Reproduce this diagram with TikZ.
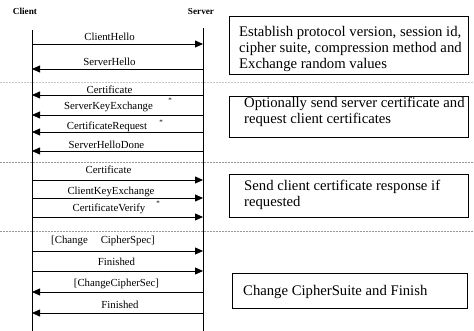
\documentclass[tikz,border=0pt]{standalone}
\usepackage{fontspec}
\setmainfont{Liberation Serif}
\usetikzlibrary{arrows.meta}
\newcommand{\boxlines}[1]{\begin{tabular}[t]{@{}l@{}}#1\end{tabular}}
\begin{document}
\begin{tikzpicture}[x=1pt,y=-1pt,
  lifeline/.style={line width=0.9pt},
  msg/.style={line width=0.8pt,-{Triangle[length=8pt,width=7pt]}},
  lbl/.style={anchor=base,inner sep=0pt,font=\fontsize{10.8}{12}\selectfont},
  ttl/.style={anchor=base,inner sep=0pt,font=\fontsize{9.2}{11}\selectfont\bfseries},
  star/.style={inner sep=0pt,font=\fontsize{7}{8}\selectfont},
  frame/.style={draw,line width=1pt,anchor=north west,inner sep=0pt},
  boxtxt/.style={anchor=base west,inner sep=0pt,font=\fontsize{14.7}{16}\selectfont},
  sep/.style={line width=0.6pt,dash pattern=on 2pt off 1pt}]
\useasboundingbox (0,0) rectangle (474,331);
% titles
\node[ttl] (client) at (25,15) {Client};
\node[ttl] (server) at (201,15) {Server};
% lifelines
\coordinate (ctop) at (32,30);
\coordinate (cbot) at (32,331);
\coordinate (stop) at (203,28);
\coordinate (sbot) at (203,331);
\draw[lifeline] (ctop) -- (cbot);
\draw[lifeline] (stop) -- (sbot);
% separators
\coordinate (d1l) at (0,82);  \coordinate (d1r) at (474,82);
\coordinate (d2l) at (0,162); \coordinate (d2r) at (474,162);
\coordinate (d3l) at (0,231); \coordinate (d3r) at (474,231);
\draw[sep,gray!45] (d1l) -- (d1r);
\draw[sep,gray!80] (d2l) -- (d2r);
\draw[sep,gray!80] (d3l) -- (d3r);
% message points
\foreach \i/\y in {1/44,2/69,3/95,4/115,5/132,6/151,7/180,8/198,9/217,10/251,11/271,12/292,13/313}{
  \coordinate (c\i) at (32,\y);
  \coordinate (s\i) at (203,\y);
}
% messages
\draw[msg] (c1) -- (s1);
\node[lbl] (m1) at (109.5,41) {ClientHello};
\draw[msg] (s2) -- (c2);
\node[lbl] (m2) at (109.5,65.5) {ServerHello};
\draw[msg] (s3) -- (c3);
\node[lbl] (m3) at (109.5,93.3) {Certificate};
\draw[msg] (s4) -- (c4);
\node[lbl] (m4) at (108.5,109.3) {ServerKeyExchange};
\node[star] (a4) at (170,100) {*};
\draw[msg] (s5) -- (c5);
\node[lbl] (m5) at (107,130) {CertificateRequest};
\node[star] (a5) at (161,122) {*};
\draw[msg] (s6) -- (c6);
\node[lbl] (m6) at (106.5,148.3) {ServerHelloDone};
\draw[msg] (c7) -- (s7);
\node[lbl] (m7) at (108.5,174) {Certificate};
\draw[msg] (c8) -- (s8);
\node[lbl] (m8) at (111,194.3) {ClientKeyExchange};
\node[star] (a8) at (158,203) {*};
\draw[msg] (c9) -- (s9);
\node[lbl] (m9) at (109,211.7) {CertificateVerify};
\draw[msg] (c10) -- (s10);
\node[lbl] (m10) at (103,243.3) {[Change\hspace{1.2em}CipherSpec]};
\draw[msg] (c11) -- (s11);
\node[lbl] (m11) at (116.5,265.7) {Finished};
\draw[msg] (s12) -- (c12);
\node[lbl] (m12) at (116.5,286.7) {[ChangeCipherSec]};
\draw[msg] (s13) -- (c13);
\node[lbl] (m13) at (120,308.3) {Finished};
% boxes
\node[frame,minimum width=239pt,minimum height=58pt] (b1) at (229,16) {};
\node[boxtxt] (t1) at (239,37) {\boxlines{Establish protocol version, session id,\\cipher suite, compression method and\\Exchange random values}};
\node[frame,minimum width=239pt,minimum height=41pt] (b2) at (229,96) {};
\node[boxtxt] (t2) at (244,108) {\boxlines{Optionally send server certificate and\\request client certificates}};
\node[frame,minimum width=239pt,minimum height=43pt] (b3) at (229,174) {};
\node[boxtxt] (t3) at (244,191) {\boxlines{Send client certificate response if\\requested}};
\node[frame,minimum width=235pt,minimum height=35pt] (b4) at (232,273) {};
\node[boxtxt] (t4) at (243,295) {Change CipherSuite and Finish};
\end{tikzpicture}
\end{document}
